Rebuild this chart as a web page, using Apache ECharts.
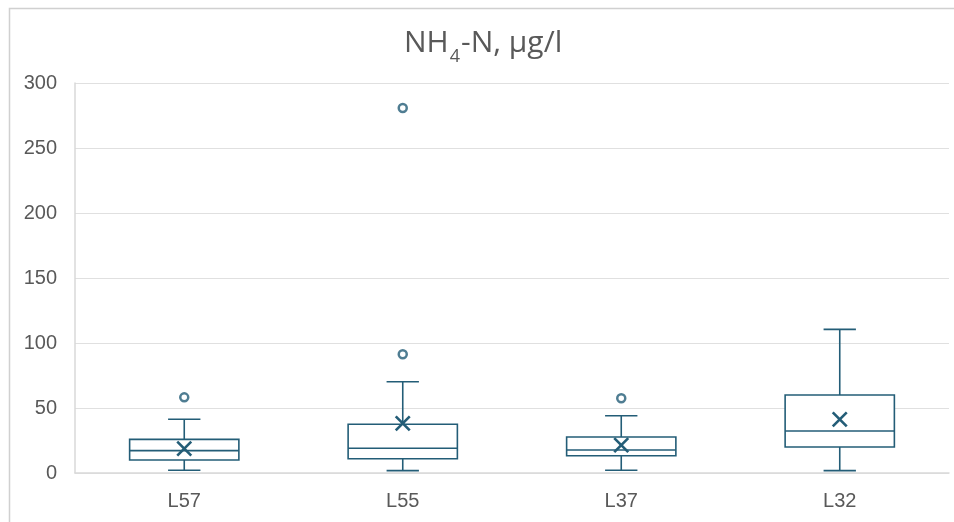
<!DOCTYPE html>
<html>
<head>
<meta charset="utf-8">
<script src="https://cdn.jsdelivr.net/npm/echarts@6/dist/echarts.min.js"></script>
<style>
  html, body { margin: 0; padding: 0; background: #ffffff; }
  #chart { width: 954px; height: 522px; }
</style>
</head>
<body>
<div id="chart"></div>
<script>
// Stations and box-plot statistics (µg/l)
const categories = ['L57', 'L55', 'L37', 'L32'];
const whiskerLow  = [2.1, 1.8, 2.1, 1.8];
const quartile1   = [10, 11, 13.3, 20];
const median      = [17.2, 19, 17.7, 32.3];
const quartile3   = [25.9, 37.5, 27.7, 60];
const whiskerHigh = [41.3, 70.2, 44, 110.5];
const mean        = [18.7, 38.2, 21.5, 41.3];
// Outliers as [station index, value]
const outliers = [[0, 58.2], [1, 91.3], [1, 280.8], [2, 57.5]];
const yTicks = { min: 0, max: 300, step: 50 };

const boxColor = '#235d77';

const boxData = categories.map((c, i) => [i, whiskerLow[i], quartile1[i], median[i], quartile3[i], whiskerHigh[i], mean[i]]);

function renderBox(params, api) {
  const x = api.value(0);
  const catW = api.size([1, 0])[0];
  const halfBox = catW * 0.25;
  const halfCap = catW * 0.074;
  const pLow = api.coord([x, api.value(1)]);
  const pQ1 = api.coord([x, api.value(2)]);
  const pMed = api.coord([x, api.value(3)]);
  const pQ3 = api.coord([x, api.value(4)]);
  const pHigh = api.coord([x, api.value(5)]);
  const pMean = api.coord([x, api.value(6)]);
  const cx = pLow[0];
  const st = { stroke: boxColor, lineWidth: 1.6, fill: null };
  const xs = 7;
  return {
    type: 'group',
    children: [
      { type: 'line', shape: { x1: cx, y1: pHigh[1], x2: cx, y2: pQ3[1] }, style: st },
      { type: 'line', shape: { x1: cx, y1: pQ1[1], x2: cx, y2: pLow[1] }, style: st },
      { type: 'line', shape: { x1: cx - halfCap, y1: pHigh[1], x2: cx + halfCap, y2: pHigh[1] }, style: st },
      { type: 'line', shape: { x1: cx - halfCap, y1: pLow[1], x2: cx + halfCap, y2: pLow[1] }, style: st },
      { type: 'rect', shape: { x: cx - halfBox, y: pQ3[1], width: halfBox * 2, height: pQ1[1] - pQ3[1] },
        style: { stroke: boxColor, lineWidth: 1.6, fill: '#ffffff' } },
      { type: 'line', shape: { x1: cx - halfBox, y1: pMed[1], x2: cx + halfBox, y2: pMed[1] }, style: st },
      { type: 'line', shape: { x1: cx - xs, y1: pMean[1] - xs, x2: cx + xs, y2: pMean[1] + xs },
        style: { stroke: boxColor, lineWidth: 2.6 } },
      { type: 'line', shape: { x1: cx - xs, y1: pMean[1] + xs, x2: cx + xs, y2: pMean[1] - xs },
        style: { stroke: boxColor, lineWidth: 2.6 } }
    ]
  };
}

const chart = echarts.init(document.getElementById('chart'), null, { renderer: 'canvas' });
chart.setOption({
  backgroundColor: '#ffffff',
  animation: false,
  graphic: [{
    type: 'rect', left: 7, top: 6, z: -10,
    shape: { width: 980, height: 560 },
    style: { fill: null, stroke: '#d0d0d0', lineWidth: 1.5 }
  }],
  title: {
    text: '{a|NH}{s|4}{a|-N, µg/l}',
    left: 404,
    top: 24,
    padding: 0,
    textStyle: {
      rich: {
        a: { fontSize: 30, fontWeight: 'normal', color: '#595959', fontFamily: 'Open Sans', verticalAlign: 'bottom', lineHeight: 34 },
        s: { fontSize: 18, fontWeight: 'normal', color: '#595959', fontFamily: 'Open Sans', verticalAlign: 'bottom', lineHeight: 34, padding: [0, 1, -8, 1] }
      }
    }
  },
  grid: { left: 75, right: 5, top: 83, bottom: 49 },
  xAxis: {
    type: 'category',
    data: categories,
    boundaryGap: true,
    axisLine: { lineStyle: { color: '#d9d9d9', width: 1.5 } },
    axisTick: { show: false },
    axisLabel: { color: '#595959', fontSize: 20, fontFamily: 'Liberation Sans', margin: 18 }
  },
  yAxis: {
    type: 'value',
    min: yTicks.min, max: yTicks.max, interval: yTicks.step,
    axisLine: { show: true, lineStyle: { color: '#d9d9d9', width: 1.5 } },
    axisTick: { show: false },
    splitLine: { lineStyle: { color: '#e0e0e0', width: 1.2 } },
    axisLabel: { color: '#595959', fontSize: 20, fontFamily: 'Liberation Sans', margin: 18 }
  },
  series: [
    {
      type: 'custom',
      renderItem: renderBox,
      encode: { x: 0, y: [1, 2, 3, 4, 5] },
      data: boxData,
      z: 3
    },
    {
      type: 'scatter',
      data: outliers,
      symbol: 'circle',
      symbolSize: 8,
      itemStyle: { color: '#ffffff', borderColor: boxColor, borderWidth: 2.5 },
      z: 4
    }
  ]
});
</script>
</body>
</html>
